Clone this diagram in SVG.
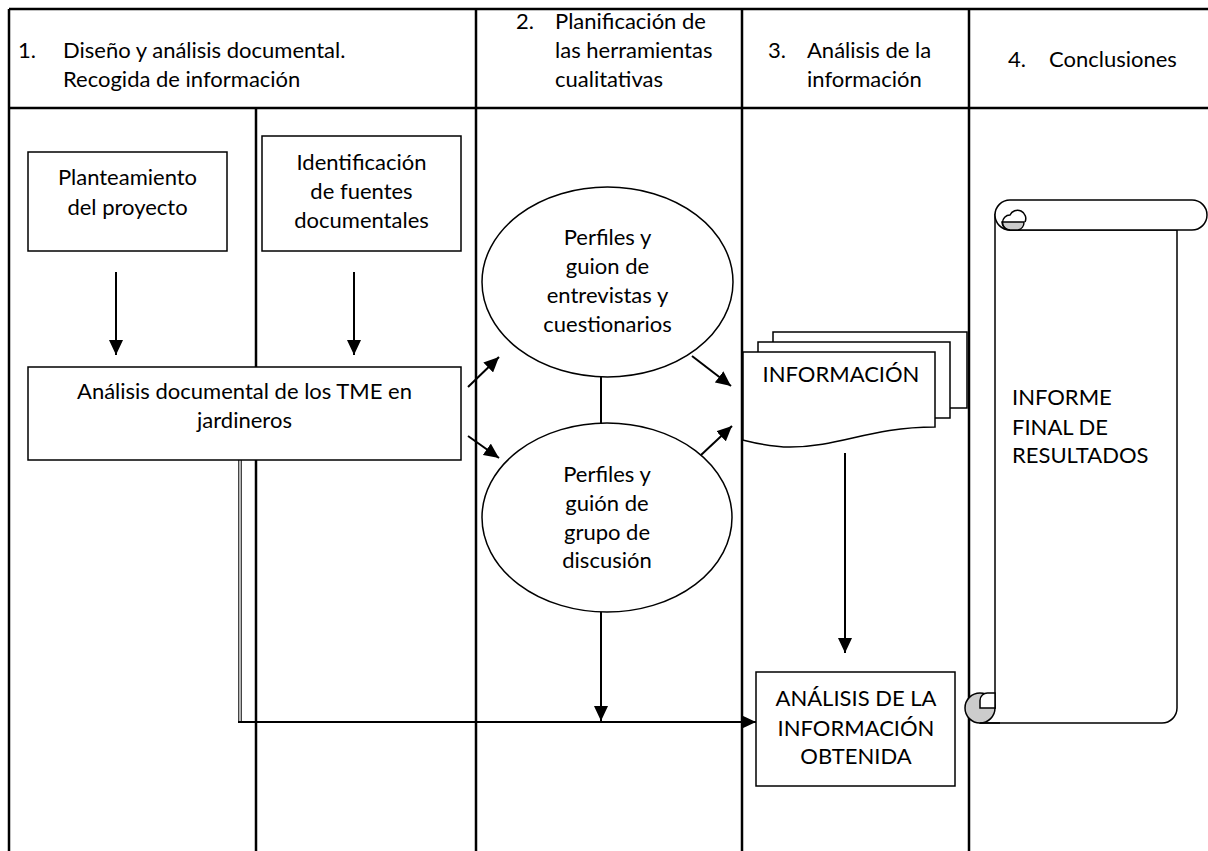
<svg xmlns="http://www.w3.org/2000/svg" width="1208" height="851" viewBox="0 0 1208 851">
<defs>
<style>
.tbl{stroke:#000;stroke-width:2.5;fill:none}
.box{fill:#fff;stroke:#000;stroke-width:1.5}
.ln{stroke:#000;stroke-width:2;fill:none}
.t{font-family:Lato,"Open Sans","Liberation Sans",sans-serif;font-size:22px;fill:#000}
.c{text-anchor:middle}
</style>
<marker id="ah" markerUnits="userSpaceOnUse" markerWidth="15" markerHeight="14" refX="15" refY="7" orient="auto">
<path d="M0,0 L15,7 L0,14 Z" fill="#000"/>
</marker>
</defs>
<rect width="1208" height="851" fill="#fff"/>
<g id="table">
<line class="tbl" x1="9" y1="9" x2="1208" y2="9"/>
<line class="tbl" x1="9" y1="108" x2="1208" y2="108"/>
<line class="tbl" x1="9" y1="9" x2="9" y2="851"/>
<line class="tbl" x1="256" y1="108" x2="256" y2="851"/>
<line class="tbl" x1="476" y1="9" x2="476" y2="851"/>
<line class="tbl" x1="742" y1="9" x2="742" y2="851"/>
<line class="tbl" x1="969" y1="9" x2="969" y2="851"/>
</g>
<g id="headers">
<text class="t" x="18" y="58">1.</text>
<text class="t" x="63" y="58">Diseño y análisis documental.</text>
<text class="t" x="63" y="87">Recogida de información</text>
<text class="t" x="516" y="29">2.</text>
<text class="t" x="555" y="29">Planificación de</text>
<text class="t" x="555" y="58">las herramientas</text>
<text class="t" x="555" y="87">cualitativas</text>
<text class="t" x="768" y="58">3.</text>
<text class="t" x="807" y="58">Análisis de la</text>
<text class="t" x="807" y="87">información</text>
<text class="t" x="1008" y="67">4.</text>
<text class="t" x="1049" y="67">Conclusiones</text>
</g>
<g id="connectors">
<line class="ln" x1="116" y1="272" x2="116" y2="355" marker-end="url(#ah)"/>
<line class="ln" x1="354" y1="272" x2="354" y2="355" marker-end="url(#ah)"/>
<line class="ln" x1="468" y1="387" x2="499" y2="357" marker-end="url(#ah)"/>
<line class="ln" x1="468" y1="436" x2="499" y2="458" marker-end="url(#ah)"/>
<line class="ln" x1="601" y1="377" x2="601" y2="423"/>
<line class="ln" x1="692" y1="356" x2="731" y2="386" marker-end="url(#ah)"/>
<line class="ln" x1="701" y1="455" x2="732" y2="426" marker-end="url(#ah)"/>
<line class="ln" x1="845" y1="453" x2="845" y2="653" marker-end="url(#ah)"/>
<line class="ln" x1="601" y1="612" x2="601" y2="721" marker-end="url(#ah)"/>
<line x1="240" y1="460" x2="240" y2="722" stroke="#444" stroke-width="4"/>
<line x1="240" y1="460" x2="240" y2="721" stroke="#fff" stroke-width="1.2"/>
<polyline class="ln" points="238,722 756,722" marker-end="url(#ah)"/>
</g>
<g id="planteamiento">
<rect class="box" x="28" y="152" width="199" height="99"/>
<text class="t c" x="127.5" y="185">Planteamiento</text>
<text class="t c" x="127.5" y="215">del proyecto</text>
</g>
<g id="identificacion">
<rect class="box" x="262" y="136" width="199" height="115"/>
<text class="t c" x="361.5" y="170">Identificación</text>
<text class="t c" x="361.5" y="199">de fuentes</text>
<text class="t c" x="361.5" y="228">documentales</text>
</g>
<g id="analisis-documental">
<rect class="box" x="28" y="367" width="433" height="93"/>
<text class="t c" x="244.5" y="399">Análisis documental de los TME en</text>
<text class="t c" x="244.5" y="428">jardineros</text>
</g>
<g id="perfiles-entrevistas">
<ellipse class="box" cx="607.5" cy="282" rx="125.5" ry="95"/>
<text class="t c" x="607.5" y="245">Perfiles y</text>
<text class="t c" x="607.5" y="274">guion de</text>
<text class="t c" x="607.5" y="303">entrevistas y</text>
<text class="t c" x="607.5" y="332">cuestionarios</text>
</g>
<g id="perfiles-grupo">
<ellipse class="box" cx="607" cy="517.5" rx="125" ry="94.5"/>
<text class="t c" x="607" y="482">Perfiles y</text>
<text class="t c" x="607" y="511">guión de</text>
<text class="t c" x="607" y="540">grupo de</text>
<text class="t c" x="607" y="568">discusión</text>
</g>
<g id="informacion">
<rect class="box" x="773" y="332" width="194" height="76"/>
<rect class="box" x="758" y="342" width="192" height="76"/>
<path class="box" d="M743,352 H935 V427 C870,427 840,447 790,447 C770,447 755,443 743,440 Z"/>
<text class="t c" x="841" y="382">INFORMACIÓN</text>
</g>
<g id="analisis-informacion">
<rect class="box" x="756" y="672" width="199" height="114"/>
<text class="t c" x="856" y="706">ANÁLISIS DE LA</text>
<text class="t c" x="856" y="736">INFORMACIÓN</text>
<text class="t c" x="856" y="764">OBTENIDA</text>
</g>
<g id="informe-final">
<path class="box" d="M995,215 V708 H980 V723 H1162 A15,15 0 0 0 1177,708 V230 H1010 Z"/>
<path class="box" d="M1010,200 H1192 A15,15 0 0 1 1192,230 H1010 A15,15 0 0 1 1010,200 Z"/>
<path d="M1002,222 A8,8 0 0 0 1010,230 H1018 A8,8 0 0 0 1024,222 Z" fill="#ccc" stroke="#000" stroke-width="1.5"/>
<path d="M1010,230 A7.5,7.5 0 0 1 1010,215 A7.5,7.5 0 0 1 1025,222" fill="none" stroke="#000" stroke-width="1.5"/>
<circle cx="980" cy="708" r="15" fill="#ccc" stroke="#000" stroke-width="1.5"/>
<path d="M995,693 H988 A7.5,7.5 0 0 0 980,700.5 V708 H995 Z" fill="#fff" stroke="#000" stroke-width="1.5"/>
<line x1="980" y1="723" x2="1000" y2="723" stroke="#000" stroke-width="1.5"/>
<text class="t" x="1012" y="405">INFORME</text>
<text class="t" x="1012" y="435">FINAL DE</text>
<text class="t" x="1012" y="463">RESULTADOS</text>
</g>
</svg>
